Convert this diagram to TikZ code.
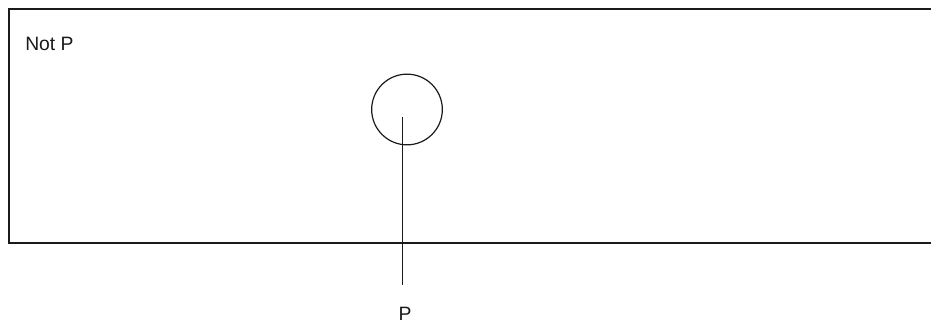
\documentclass[tikz,border=0pt]{standalone}
\usepackage{fontspec}
\setmainfont{Liberation Sans}
\usetikzlibrary{positioning,calc}
\definecolor{ink}{HTML}{1A1A1A}
\tikzset{
  frameline/.style={draw=ink, line width=1.1pt},
  ringline/.style={draw=ink, line width=0.9pt},
  label/.style={font=\fontsize{14.5pt}{17pt}\selectfont, text=ink, inner sep=0pt},
  pointer/.style={draw=ink, line width=0.9pt},
}

\begin{document}
\begin{tikzpicture}[x=0.75pt, y=-0.75pt]
  \useasboundingbox (0,0) rectangle (931,327);

  % the universe, open at the right
  \draw[frameline] (931,9) -- (9,9) -- (9,243) -- (931,243);
  \node[label, anchor=north west] (notp) at (25,37) {Not P};

  % the set P
  \node[ringline, circle, minimum size=53pt, inner sep=0pt] (ring) at (407,109.5) {};
  \coordinate (tip)  at (402.5,117);
  \coordinate (foot) at (402.5,285);
  \node[label] (lblp) at (405,314) {P};

  \draw[pointer] (tip) -- (foot);
\end{tikzpicture}
\end{document}
